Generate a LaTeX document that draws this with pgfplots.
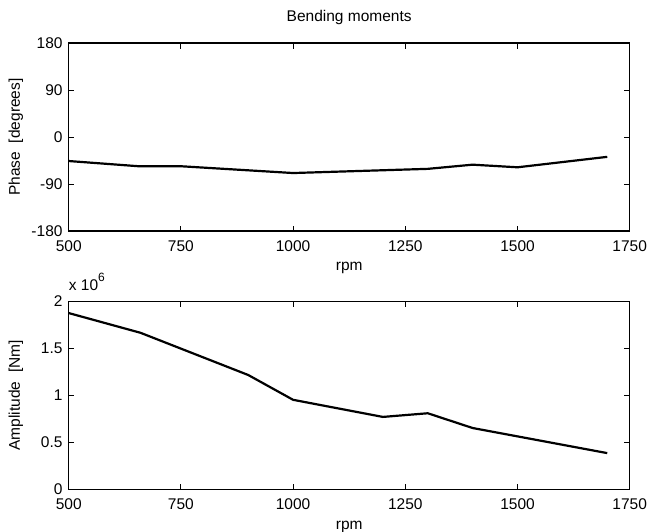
\documentclass[border=0pt]{standalone}
\usepackage{fontspec}
\setmainfont{Liberation Sans}
\usepackage{pgfplots}
\pgfplotsset{compat=1.18}

\pgfplotsset{
  matlab/.style={
    scale only axis,
    width=561pt, height=188pt,
    xmin=500, xmax=1750,
    xtick={500,750,1000,1250,1500,1750},
    tick align=inside,
    major tick length=5.5pt,
    axis line style={line width=1.2pt},
    every tick/.style={line width=0.9pt, black},
    /pgf/number format/assume math mode=true,
    /pgf/number format/1000 sep={},
    xticklabel style={inner sep=0pt, yshift=-9pt},
    yticklabel style={inner sep=0pt, xshift=-6pt},
    xlabel={rpm},
    xlabel style={at={(axis description cs:0.5,-0.198)}, anchor=center},
    ylabel style={at={(axis description cs:-0.094,0.5)}, anchor=center, rotate=0},
    clip mode=individual,
  },
  curve/.style={black, line width=2.2pt, mark=none, line join=round},
}

\begin{document}
\begin{tikzpicture}[font=\fontsize{15.5}{18}\selectfont]
\path[use as bounding box] (0,0) rectangle (648pt,531pt);

% phase
\begin{axis}[matlab,
  at={(68.7pt,300pt)}, anchor=south west,
  ymin=-180, ymax=180,
  ytick={-180,-90,0,90,180},
  ylabel={Phase\ \ [degrees]},
  title={Bending moments},
  title style={at={(axis description cs:0.5,1.105)}, anchor=center},
]
\addplot[curve] coordinates {
  (500,-46) (656,-56) (750,-56) (1000,-69) (1300,-61)
  (1400,-53) (1500,-58) (1700,-38)
};
\end{axis}

% amplitude
\begin{axis}[matlab,
  at={(68.7pt,41.7pt)}, anchor=south west,
  ymin=0, ymax=2000000,
  scaled y ticks=false,
  ytick={0,500000,1000000,1500000,2000000},
  yticklabels={0,0.5,1,1.5,2},
  ylabel={Amplitude\ \ [Nm]},
  after end axis/.code={
    \node[anchor=base west, inner sep=0pt, yshift=11pt]
      at (rel axis cs:0,1)
      {x 10\raisebox{0.55em}{\fontsize{12}{12}\selectfont 6}};
  },
]
\addplot[curve] coordinates {
  (500,1875000) (660,1665000) (900,1216000) (1000,952000)
  (1200,770000) (1300,809000) (1400,652000) (1500,563000)
  (1700,385000)
};
\end{axis}
\end{tikzpicture}
\end{document}
